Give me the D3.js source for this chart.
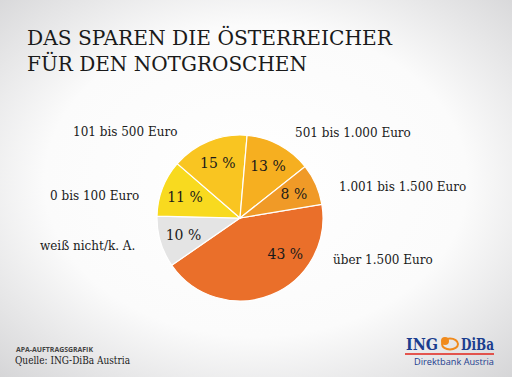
<!DOCTYPE html>
<html>
<head>
<meta charset="utf-8">
<script src="https://cdn.jsdelivr.net/npm/d3@7"></script>
<style>
  body { margin: 0; padding: 0; }
  svg { display: block; }
</style>
</head>
<body>
<svg width="512" height="377"></svg>
<script>
// chart data, clockwise from the big slice
const categories = ["über 1.500 Euro", "weiß nicht/k. A.", "0 bis 100 Euro", "101 bis 500 Euro", "501 bis 1.000 Euro", "1.001 bis 1.500 Euro"]
const shares = [43, 10, 11, 15, 13, 8]
const sliceColors = ["#ea6f2a", "#e4e4e4", "#f8da1f", "#f9c521", "#f6af20", "#f09a27"]
const titleLines = ["DAS SPAREN DIE ÖSTERREICHER", "FÜR DEN NOTGROSCHEN"]

const data = categories.map((c, i) => ({category: c, value: shares[i], color: sliceColors[i]}))

const svg = d3.select("svg")
const serif = "'DejaVu Serif', serif"

function addBackground(){
    const grad = svg.append("defs")
        .append("radialGradient")
        .attr("id", "bg")
        .attr("cx", "50%").attr("cy", "48%").attr("r", "75%")
    grad.append("stop").attr("offset", "0%").attr("stop-color", "#ffffff")
    grad.append("stop").attr("offset", "55%").attr("stop-color", "#fbfbfb")
    grad.append("stop").attr("offset", "100%").attr("stop-color", "#d2d2d4")

    svg.append("rect")
        .attr("width", 512)
        .attr("height", 377)
        .attr("fill", "url(#bg)")
}

function addTitle(){
    svg.append("g")
        .selectAll("text")
        .data(titleLines)
        .enter()
        .append("text")
        .attr("x", 27)
        .attr("y", (d, i) => 45 + i * 25.5)
        .attr("textLength", (d, i) => i == 0 ? 365 : 280)
        .attr("lengthAdjust", "spacingAndGlyphs")
        .style("font-family", serif)
        .style("font-size", "21px")
        .style("fill", "#1a1a1a")
        .text(d => d)
}

function addPie(){
    const cx = 240, cy = 218, r = 83
    const start = 80.5 * Math.PI / 180

    const pie = d3.pie()
        .value(d => d.value)
        .sort(null)
        .startAngle(start)
        .endAngle(start + 2 * Math.PI)

    const arc = d3.arc().innerRadius(0).outerRadius(r)
    const slices = pie(data)

    const g = svg.append("g")
        .attr("id", "pie")
        .attr("transform", `translate(${cx}, ${cy})`)

    g.selectAll("path")
        .data(slices)
        .enter()
        .append("path")
        .attr("d", arc)
        .attr("fill", d => d.data.color)
        .attr("stroke", "#ffffff")
        .attr("stroke-width", 1.2)

    // the big slice gets its label nearer its leading edge, like the original
    const labelPos = d => {
        const span = d.endAngle - d.startAngle
        const a = d.startAngle + span * (d.data.value > 30 ? 0.31 : 0.5)
        const lr = d.data.value > 30 ? 58 : 59
        return [Math.sin(a) * lr, -Math.cos(a) * lr]
    }

    g.selectAll("text")
        .data(slices)
        .enter()
        .append("text")
        .attr("x", d => labelPos(d)[0])
        .attr("y", d => labelPos(d)[1])
        .attr("dy", "0.36em")
        .attr("text-anchor", "middle")
        .style("font-family", serif)
        .style("font-size", "14px")
        .style("fill", "#1a1a1a")
        .text(d => d.data.value + " %")
}

function addCategoryLabels(){
    // label anchor points beside the pie
    const spots = {
        "über 1.500 Euro": [333, 264],
        "weiß nicht/k. A.": [40, 250],
        "0 bis 100 Euro": [50, 200],
        "101 bis 500 Euro": [73, 136],
        "501 bis 1.000 Euro": [295, 137],
        "1.001 bis 1.500 Euro": [339, 191]
    }

    svg.append("g")
        .selectAll("text")
        .data(data)
        .enter()
        .append("text")
        .attr("x", d => spots[d.category][0])
        .attr("y", d => spots[d.category][1])
        .style("font-family", serif)
        .style("font-size", "12px")
        .style("fill", "#1a1a1a")
        .text(d => d.category)
}

function addFooter(){
    svg.append("text")
        .attr("x", 16)
        .attr("y", 352)
        .attr("textLength", 77)
        .attr("lengthAdjust", "spacingAndGlyphs")
        .style("font-family", "'Open Sans', sans-serif")
        .style("font-weight", "bold")
        .style("font-size", "7px")
        .style("fill", "#444")
        .text("APA-AUFTRAGSGRAFIK")

    svg.append("text")
        .attr("x", 15)
        .attr("y", 364)
        .attr("textLength", 115)
        .attr("lengthAdjust", "spacingAndGlyphs")
        .style("font-family", serif)
        .style("font-size", "10.5px")
        .style("fill", "#1a1a1a")
        .text("Quelle: ING-DiBa Austria")

    const logo = svg.append("g").attr("id", "logo")

    logo.append("text")
        .attr("x", 406).attr("y", 350)
        .attr("textLength", 32)
        .attr("lengthAdjust", "spacingAndGlyphs")
        .style("font-family", serif)
        .style("font-weight", "bold")
        .style("font-size", "16px")
        .style("fill", "#1b3d8f")
        .text("ING")

    logo.append("text")
        .attr("x", 461).attr("y", 350)
        .attr("textLength", 33)
        .attr("lengthAdjust", "spacingAndGlyphs")
        .style("font-family", serif)
        .style("font-weight", "bold")
        .style("font-size", "16px")
        .style("fill", "#1b3d8f")
        .text("DiBa")

    // little lion, roughly
    logo.append("ellipse")
        .attr("cx", 450).attr("cy", 344).attr("rx", 8).attr("ry", 5.5)
        .attr("fill", "none").attr("stroke", "#f08a1c").attr("stroke-width", 2)
    logo.append("circle")
        .attr("cx", 445).attr("cy", 341).attr("r", 4)
        .attr("fill", "#f08a1c")

    logo.append("line")
        .attr("x1", 405).attr("x2", 494)
        .attr("y1", 354).attr("y2", 354)
        .attr("stroke", "#e2231a")
        .attr("stroke-width", 1.5)

    logo.append("text")
        .attr("x", 494).attr("y", 364.5)
        .attr("text-anchor", "end")
        .attr("textLength", 80)
        .attr("lengthAdjust", "spacingAndGlyphs")
        .style("font-family", "'Open Sans', sans-serif")
        .style("font-size", "9px")
        .style("fill", "#1b3d8f")
        .text("Direktbank Austria")
}

addBackground()
addTitle()
addPie()
addCategoryLabels()
addFooter()
</script>
</body>
</html>
